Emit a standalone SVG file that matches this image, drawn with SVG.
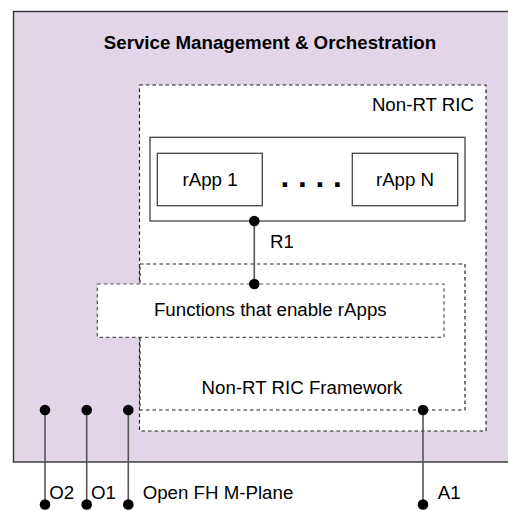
<svg xmlns="http://www.w3.org/2000/svg" width="508" height="510" viewBox="0 0 508 510">
<style>
text{font-family:"Liberation Sans",Arial,Helvetica,sans-serif;font-size:18.7px;fill:#000}
.title{font-weight:bold}
.dash{fill:#fff;stroke:#222;stroke-width:1.2;stroke-dasharray:3.5 3}
.solid{fill:#fff;stroke:#444;stroke-width:1.3}
.conn line{stroke:#555;stroke-width:1.6}
.conn circle{fill:#000}
</style>
<g id="smo">
<rect x="13.5" y="11.5" width="520" height="450.5" fill="#e1d5e7" stroke="#333" stroke-width="1.4"/>
<text class="title" x="270" y="48.5" text-anchor="middle">Service Management &amp; Orchestration</text>
</g>
<g id="nonrtric">
<rect class="dash" x="139.5" y="85" width="346.5" height="346"/>
<text x="474" y="111" text-anchor="end">Non-RT RIC</text>
</g>
<g id="framework">
<rect class="dash" x="140" y="264" width="325" height="146"/>
<text x="302" y="394.3" text-anchor="middle">Non-RT RIC Framework</text>
</g>
<g id="functions">
<rect class="dash" x="97.3" y="284" width="346.7" height="53.3" style="stroke:#555"/>
<text x="270.3" y="316" text-anchor="middle">Functions that enable rApps</text>
</g>
<g id="rapps">
<rect class="solid" x="150" y="137.3" width="315" height="83.7"/>
</g>
<g id="rapp1">
<rect class="solid" x="157.3" y="153.3" width="105" height="52.4"/>
<text x="210" y="186" text-anchor="middle">rApp 1</text>
</g>
<g id="dots">
<text class="title" x="280.6" y="187.2" style="font-size:31.5px">. . . .</text>
</g>
<g id="rappN">
<rect class="solid" x="352.3" y="153.3" width="105.4" height="52.4"/>
<text x="405" y="186" text-anchor="middle">rApp N</text>
</g>
<g id="connectors" class="conn">
<line x1="254.3" y1="221" x2="254.3" y2="284"/>
<circle cx="254.3" cy="221" r="5.3"/>
<circle cx="254.3" cy="284" r="5.3"/>
<text x="270" y="248">R1</text>
<line x1="45" y1="410" x2="45" y2="504.5"/>
<circle cx="45" cy="410" r="5.3"/>
<circle cx="45" cy="504.5" r="5.3"/>
<text x="49.3" y="499.3">O2</text>
<line x1="86.7" y1="410" x2="86.7" y2="504.5"/>
<circle cx="86.7" cy="410" r="5.3"/>
<circle cx="86.7" cy="504.5" r="5.3"/>
<text x="91" y="499.3">O1</text>
<line x1="128.3" y1="410" x2="128.3" y2="504.5"/>
<circle cx="128.3" cy="410" r="5.3"/>
<circle cx="128.3" cy="504.5" r="5.3"/>
<text x="142.7" y="499.3">Open FH M-Plane</text>
<line x1="423" y1="410" x2="423" y2="504.5"/>
<circle cx="423" cy="410" r="5.3"/>
<circle cx="423" cy="504.5" r="5.3"/>
<text x="437.7" y="499.3">A1</text>
</g>
</svg>
